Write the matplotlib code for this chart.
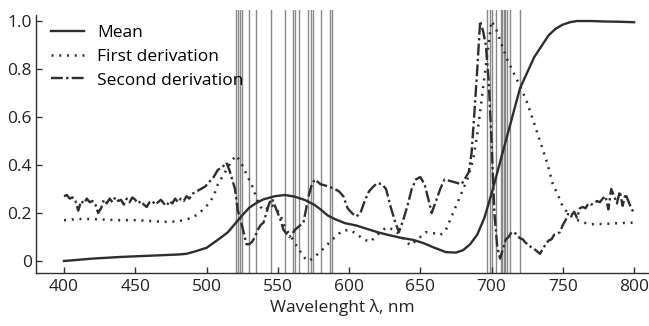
import numpy as np
import matplotlib
matplotlib.use('Agg')
import matplotlib.pyplot as plt

plt.rcParams['font.family'] = ['Open Sans', 'DejaVu Sans']

# mean reflectance
wl_mean = [400, 420, 440, 460, 480, 486, 492, 500, 506, 510, 515, 520, 525, 530, 535, 540,
           548, 555, 562, 569, 576, 580, 585, 590, 597, 605, 612, 620, 628, 636, 645, 652,
           660, 668, 675, 680, 685, 690, 695, 700, 705, 710, 715, 720, 730, 740, 745, 750,
           755, 760, 770, 780, 790, 800]
mean = [0.0, 0.01, 0.017, 0.022, 0.027, 0.03, 0.04, 0.055, 0.08, 0.097, 0.12, 0.155, 0.19,
        0.222, 0.242, 0.257, 0.27, 0.275, 0.268, 0.254, 0.233, 0.215, 0.19, 0.175, 0.158,
        0.148, 0.135, 0.12, 0.108, 0.097, 0.088, 0.075, 0.055, 0.037, 0.035, 0.045, 0.07,
        0.11, 0.18, 0.28, 0.39, 0.5, 0.61, 0.72, 0.85, 0.94, 0.968, 0.985, 0.995, 1.0, 1.0,
        0.998, 0.997, 0.995]

# first derivation
wl_d1 = [400, 410, 420, 430, 440, 450, 460, 470, 480, 490, 495, 501, 505, 508, 512, 515,
         518, 521, 525, 529, 533, 535, 538, 541, 545, 548, 552, 555, 560, 564, 569, 572,
         576, 581, 588, 595, 600, 605, 610, 615, 620, 626, 632, 637, 643, 648, 654, 660,
         664, 668, 673, 678, 683, 687, 690, 693, 697, 700, 703, 706, 711, 715, 720, 725,
         729, 734, 739, 743, 747, 750, 755, 762, 769, 780, 790, 800]
d1 = [0.17, 0.175, 0.175, 0.172, 0.17, 0.17, 0.167, 0.163, 0.165, 0.18, 0.2, 0.235, 0.27,
      0.32, 0.36, 0.39, 0.42, 0.44, 0.4, 0.35, 0.3, 0.26, 0.225, 0.21, 0.235, 0.225, 0.19,
      0.14, 0.095, 0.055, 0.012, 0.0, 0.018, 0.045, 0.088, 0.125, 0.13, 0.115, 0.09, 0.08,
      0.11, 0.14, 0.13, 0.1, 0.065, 0.09, 0.12, 0.115, 0.108, 0.13, 0.2, 0.27, 0.34, 0.42,
      0.53, 0.67, 0.86, 1.0, 0.97, 0.92, 0.84, 0.79, 0.73, 0.66, 0.59, 0.5, 0.41, 0.32,
      0.27, 0.226, 0.19, 0.165, 0.153, 0.155, 0.158, 0.16]

# second derivation (noisy)
wl_d2 = [400, 402, 404, 406, 408, 410, 412, 414, 416, 418, 420, 422, 424, 426, 428, 430,
         432, 434, 436, 438, 440, 442, 444, 446, 448, 450, 452, 454, 456, 458, 460, 462,
         464, 466, 468, 470, 472, 474, 476, 478, 480, 482, 484, 486, 488, 490, 493, 496,
         499, 502, 505, 508, 511, 514, 516, 518, 520, 522, 524, 526, 528, 530, 532, 534,
         536, 538, 540, 542, 544, 546, 548, 550, 552, 554, 556, 558, 560, 562, 564, 566,
         568, 570, 572, 574, 576, 578, 580, 583, 586, 590, 593, 596, 599, 602, 605, 608,
         611, 614, 617, 620, 623, 626, 629, 632, 635, 638, 641, 644, 647, 650, 653, 656,
         658, 661, 664, 667, 670, 673, 676, 679, 682, 684, 686, 688, 690, 692, 694, 696,
         698, 700, 702, 704, 706, 708, 710, 712, 714, 716, 718, 720, 722, 724, 726, 728,
         730, 732, 734, 736, 738, 740, 742, 744, 746, 748, 750, 752, 754, 756, 758, 760,
         762, 764, 766, 768, 770, 772, 774, 776, 778, 780, 782, 784, 786, 788, 790, 792,
         794, 796, 798, 800]
d2 = [0.27, 0.275, 0.26, 0.265, 0.25, 0.21, 0.25, 0.24, 0.26, 0.245, 0.25, 0.235, 0.2,
      0.22, 0.255, 0.24, 0.26, 0.245, 0.265, 0.25, 0.255, 0.235, 0.26, 0.245, 0.265, 0.255,
      0.24, 0.25, 0.235, 0.225, 0.245, 0.25, 0.235, 0.245, 0.255, 0.24, 0.23, 0.25, 0.24,
      0.26, 0.245, 0.26, 0.25, 0.27, 0.26, 0.28, 0.29, 0.3, 0.31, 0.33, 0.35, 0.38, 0.39,
      0.41, 0.38, 0.34, 0.3, 0.21, 0.17, 0.12, 0.07, 0.07, 0.08, 0.1, 0.13, 0.15, 0.16,
      0.2, 0.24, 0.26, 0.23, 0.2, 0.17, 0.13, 0.115, 0.1, 0.11, 0.13, 0.14, 0.15, 0.16,
      0.22, 0.28, 0.32, 0.34, 0.33, 0.32, 0.315, 0.31, 0.3, 0.29, 0.27, 0.22, 0.2, 0.185,
      0.2, 0.25, 0.29, 0.31, 0.325, 0.32, 0.3, 0.23, 0.17, 0.12, 0.17, 0.23, 0.3, 0.34,
      0.35, 0.32, 0.25, 0.2, 0.25, 0.3, 0.34, 0.335, 0.33, 0.325, 0.32, 0.35, 0.37, 0.45,
      0.62, 0.8, 1.0, 0.96, 0.9, 0.75, 0.5, 0.2, 0.06, 0.01, 0.05, 0.09, 0.1, 0.12, 0.12,
      0.105, 0.095, 0.09, 0.075, 0.07, 0.055, 0.05, 0.04, 0.03, 0.05, 0.07, 0.085, 0.09,
      0.11, 0.115, 0.12, 0.15, 0.17, 0.2, 0.19, 0.205, 0.18, 0.22, 0.225, 0.22, 0.24,
      0.235, 0.24, 0.25, 0.245, 0.26, 0.27, 0.215, 0.3, 0.27, 0.24, 0.29, 0.23, 0.28, 0.25,
      0.22, 0.2]

# selected wavelengths (vertical markers)
selected = [521, 522, 523.5, 525, 530, 535, 545, 555, 560.5, 562, 565, 571.5, 573, 575,
            580.5, 587, 588, 697, 699, 700.5, 703, 706.5, 707.5, 708.5, 709.5, 711, 713, 720]

col = '#2e2e2e'
fs = 12.5
fig = plt.figure(figsize=(6.49, 3.26), dpi=100)
ax = fig.add_axes([36 / 649, 53 / 326, 613 / 649, 263 / 326])

for w in selected:
    ax.axvline(w, color='#888888', lw=1.0, zorder=1)

ax.plot(wl_mean, mean, color=col, lw=1.7, label='Mean', zorder=3)
ax.plot(wl_d1, d1, color=col, lw=1.8, ls=(0, (0.8, 2.3)), label='First derivation', zorder=3)
ax.plot(wl_d2, d2, color=col, lw=1.7, ls=(0, (5, 1.4, 1, 1.4)), label='Second derivation', zorder=3)

ax.set_xlim(380.35, 810.5)
ax.set_ylim(-0.05, 1.046)
ax.set_xticks([400, 450, 500, 550, 600, 650, 700, 750, 800])
ax.set_yticks([0, 0.2, 0.4, 0.6, 0.8, 1.0])
ax.set_yticklabels(['0', '0.2', '0.4', '0.6', '0.8', '1.0'])
ax.spines['top'].set_visible(False)
ax.spines['right'].set_visible(False)
ax.spines['left'].set_bounds(-0.05, 1.025)
for s in ['left', 'bottom']:
    ax.spines[s].set_color(col)
    ax.spines[s].set_linewidth(1.0)
ax.tick_params(axis='both', direction='in', length=4, width=1.0, color=col,
               labelsize=fs, labelcolor='#222222')
ax.tick_params(axis='x', pad=4)
ax.tick_params(axis='y', pad=3)
ax.set_xlabel('Wavelenght λ, nm', fontsize=fs, color='#222222', labelpad=3)

ax.legend(loc='upper left', bbox_to_anchor=(0.025, 0.945), frameon=False, fontsize=fs,
          handlelength=1.9, handletextpad=0.75, labelspacing=0.45, borderpad=0,
          borderaxespad=0)

fig.savefig('out.png', dpi=100)
